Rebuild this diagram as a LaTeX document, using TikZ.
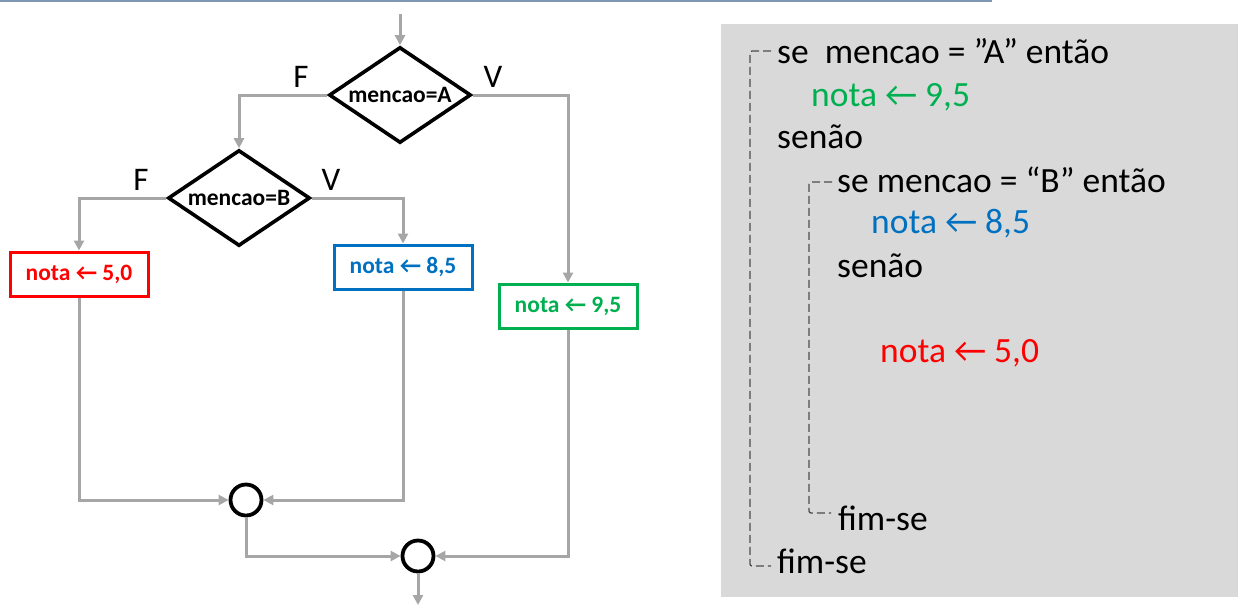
\documentclass[tikz,border=0pt]{standalone}
\usepackage{fontspec}
\setmainfont{Carlito}
\usetikzlibrary{shapes.geometric, arrows.meta, positioning}
\definecolor{notaRed}{HTML}{FF0000}
\definecolor{notaBlue}{HTML}{0070C0}
\definecolor{notaGreen}{HTML}{00B050}
\definecolor{flowGray}{HTML}{A6A6A6}
\definecolor{panelGray}{HTML}{D9D9D9}
\definecolor{slideLine}{HTML}{7F96B5}

\begin{document}
\begin{tikzpicture}[x=1pt, y=-1pt]

        \useasboundingbox (0,0) rectangle (1238,606);

        % Setup the styles for the flowchart and the pseudo code
        \tikzset{decision/.style={diamond,
                                  aspect=1.48,
                                  draw=black,
                                  line width=3.6pt,
                                  fill=white,
                                  minimum width=142pt,
                                  minimum height=96pt,
                                  inner sep=0pt,
                                  font=\fontsize{23.5}{25}\selectfont\bfseries},
                 assign/.style={rectangle,
                                line width=3pt,
                                fill=white,
                                minimum width=138pt,
                                minimum height=44pt,
                                inner sep=0pt,
                                font=\fontsize{23.5}{25}\selectfont\bfseries},
                 junction/.style={circle,
                                  draw=black,
                                  line width=3.8pt,
                                  fill=white,
                                  minimum size=31pt,
                                  inner sep=0pt},
                 branch/.style={font=\fontsize{33}{35}\selectfont},
                 code line/.style={anchor=base west,
                                   inner sep=0pt,
                                   font=\fontsize{35.5}{37}\selectfont},
                 bracket/.style={draw=black!70,
                                 line width=1.3pt,
                                 dash pattern=on 8pt off 4pt,
                                 rounded corners=2pt},
                 flow/.style={draw=flowGray,
                              line width=3pt,
                              -{Triangle[length=10pt, width=10pt]}},
                 hv/.style={flow, to path={-| (\tikztotarget)}},
                 vh/.style={flow, to path={|- (\tikztotarget)}}}

        % Slide border and code panel
        \draw[slideLine, line width=2.5pt] (0,1.2) -- (992,1.2);
        \fill[panelGray] (721,24) rectangle (1238,597);

        % Draw the flowchart nodes
        \coordinate (START) at (400,14);
        \coordinate (END)   at (418,605);
        \node[decision] at (400,95)  (MA) {mencao=A};
        \node[decision] at (239,198) (MB) {mencao=B};
        \node[assign, draw=notaRed, text=notaRed]     at (79,274)  (R) {nota ← 5,0};
        \node[assign, draw=notaBlue, text=notaBlue]   at (403,267) (B) {nota ← 8,5};
        \node[assign, draw=notaGreen, text=notaGreen] at (568,306) (G) {nota ← 9,5};
        \node[junction] at (246,500) (J1) {};
        \node[junction] at (418,556) (J2) {};

        % Branch labels
        \node[branch] at (301,77)  (FA) {F};
        \node[branch] at (493,77)  (VA) {V};
        \node[branch] at (141,180) (FB) {F};
        \node[branch] at (331,180) (VB) {V};

        % Connect the nodes with arrows
        \path
            (START)    edge[flow] (MA.north)
            (MA.west)  edge[hv]   (MB.north)
            (MA.east)  edge[hv]   (G.north)
            (MB.west)  edge[hv]   (R.north)
            (MB.east)  edge[hv]   (B.north)
            (R.south)  edge[vh]   (J1.west)
            (B.south)  edge[vh]   (J1.east)
            (J1.south) edge[vh]   (J2.west)
            (G.south)  edge[vh]   (J2.east)
            (J2.south) edge[flow] (END);

        % Pseudo code
        \node[code line] at (777,63)  (SEA)  {se\ \ mencao = ”A” então};
        \node[code line, text=notaGreen] at (811,106) (N95) {nota ← 9,5};
        \node[code line] at (777,148) (SENA) {senão};
        \node[code line] at (837,192) (SEB)  {se mencao = “B” então};
        \node[code line, text=notaBlue] at (871,233) (N85) {nota ← 8,5};
        \node[code line] at (837,277) (SENB) {senão};
        \node[code line, text=notaRed] at (880,362) (N50) {nota ← 5,0};
        \node[code line] at (838,530) (FIMB) {fim-se};
        \node[code line] at (777,573) (FIMA) {fim-se};

        % Dashed brackets of the two blocks
        \draw[bracket] (771,51) -- (750,51) -- (750,566) -- (771,566);
        \draw[bracket] (832,182) -- (809,182) -- (809,513) -- (831,513);
    \end{tikzpicture}
\end{document}
